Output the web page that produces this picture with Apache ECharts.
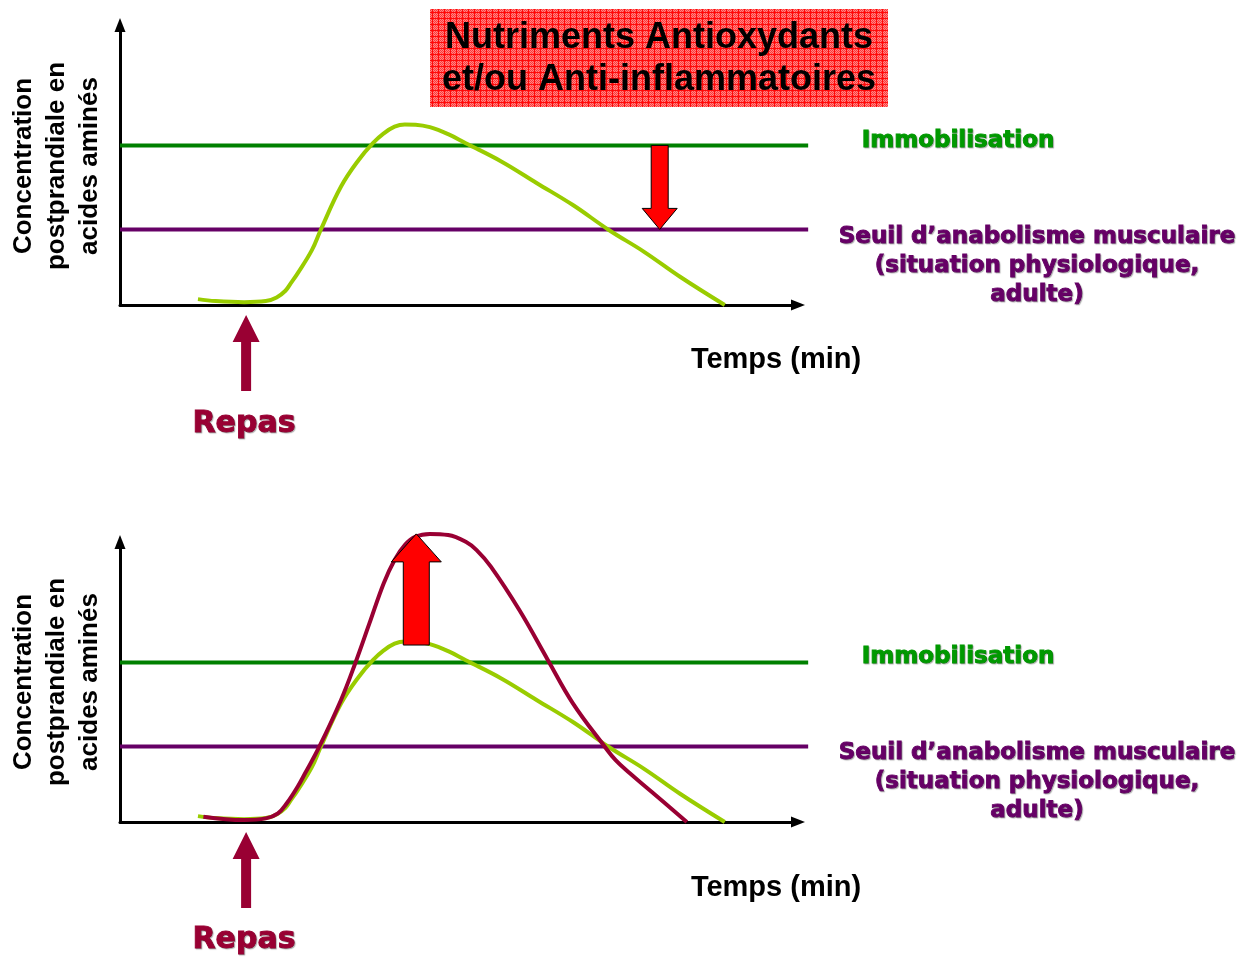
<!DOCTYPE html>
<html>
<head>
<meta charset="utf-8">
<script src="https://cdn.jsdelivr.net/npm/echarts@6/dist/echarts.min.js"></script>
<style>
  html, body { margin: 0; padding: 0; background: #ffffff; }
  #chart { width: 1249px; height: 959px; }
</style>
</head>
<body>
<div id="chart"></div>
<script>
// Postprandial amino-acid curve (standard meal)
const greenX = [11.5, 14.1, 18.3, 21.5, 23.1, 24.4, 25.2, 26.2, 28.3, 29.6, 32.6, 35.2, 37.3, 38.9, 40.5, 42.0, 43.6, 45.7, 48.4, 51.0, 56.3, 61.5, 66.8, 72.1, 77.3, 82.6, 89.2];
const greenY = [2.1, 1.4, 1.0, 1.4, 2.7, 5.1, 7.8, 11.3, 19.6, 26.8, 42.3, 51.8, 57.8, 61.3, 63.7, 64.5, 64.4, 63.5, 61.0, 57.8, 51.2, 43.5, 35.7, 26.8, 19.0, 10.1, 0];

// Curve with antioxidant / anti-inflammatory nutrients
const maroonX = [12.3, 18.3, 21.5, 23.3, 24.6, 26.2, 27.3, 29.4, 32.6, 34.7, 36.8, 38.9, 40.5, 42.0, 43.6, 45.7, 48.4, 51.0, 52.6, 54.7, 58.9, 63.1, 66.8, 71.5, 73.1, 75.2, 78.4, 83.6];
const maroonY = [1.9, 0.7, 1.3, 3.1, 6.7, 12.6, 17.4, 26.9, 43.6, 56.7, 71.0, 85.3, 93.6, 98.9, 101.9, 102.9, 102.5, 100.1, 97.1, 91.2, 75.7, 57.9, 42.4, 26.9, 22.1, 17.4, 10.8, 0];

// Threshold levels
const immobilisationLevel = 57;
const seuilLevel = 27;
const thresholdSpan = [0, 101.5];

// Annotation arrows: [x, from, to]
const downArrow = [[79.6, immobilisationLevel, seuilLevel]];
const upArrow = [[43.7, 63.2, 102.9]];
const mealTime = [[18.6]];

// Labels
const titleLines = ['Nutriments Antioxydants', 'et/ou Anti-inflammatoires'];
const yTitleLines = ['Concentration', 'postprandiale en', 'acides aminés'];
const xTitle = 'Temps (min)';
const immobLabel = 'Immobilisation';
const seuilLines = ['Seuil d’anabolisme musculaire', '(situation physiologique,', 'adulte)'];
const mealLabel = 'Repas';

const GREEN_CURVE = '#99cc00';
const MAROON = '#990033';
const GREEN = '#008000';
const PURPLE = '#660066';

const zip = (xs, ys) => xs.map((x, i) => [x, ys[i]]);

// Hatched red fill of the title box
const pc = document.createElement('canvas');
pc.width = 6; pc.height = 6;
const pctx = pc.getContext('2d');
for (let i = 0; i < 6; i++) {
  for (let j = 0; j < 6; j++) {
    pctx.fillStyle = (i + j) % 2 === 0 ? '#ff3a3a' : '#ff8484';
    pctx.fillRect(i, j, 1, 1);
  }
}
pctx.fillStyle = '#ff0a0a';
pctx.fillRect(0, 0, 6, 1);
pctx.fillRect(0, 0, 1, 6);

const chart = echarts.init(document.getElementById('chart'), null, { renderer: 'canvas' });

function blockArrow(hw, hh, hl, fill, stroke) {
  return function (params, api) {
    const x = api.value(0);
    const p1 = api.coord([x, api.value(1)]);
    const p2 = api.coord([x, api.value(2)]);
    const d = p2[1] > p1[1] ? 1 : -1;
    const cx = p1[0];
    const hb = p2[1] - d * hl;
    return {
      type: 'polygon',
      shape: { points: [[cx - hw, p1[1]], [cx + hw, p1[1]], [cx + hw, hb], [cx + hh, hb], [cx, p2[1]], [cx - hh, hb], [cx - hw, hb]] },
      style: { fill: fill, stroke: stroke, lineWidth: stroke ? 1 : 0 }
    };
  };
}

function mealArrow(params, api) {
  const base = api.coord([api.value(0), 0]);
  const cx = base[0], y0 = base[1];
  const tip = y0 + 10, hb = y0 + 37, bottom = y0 + 86;
  return {
    type: 'polygon',
    shape: { points: [[cx, tip], [cx + 13.5, hb], [cx + 5, hb], [cx + 5, bottom], [cx - 5, bottom], [cx - 5, hb], [cx - 13.5, hb]] },
    style: { fill: MAROON }
  };
}

// Horizontal threshold line across the panel: data [level]
function thresholdLine(color) {
  return function (params, api) {
    const lvl = api.value(0);
    const a = api.coord([thresholdSpan[0], lvl]);
    const b = api.coord([thresholdSpan[1], lvl]);
    return { type: 'line', shape: { x1: a[0], y1: a[1], x2: b[0], y2: b[1] }, style: { stroke: color, lineWidth: 4 } };
  };
}

const axisLineStyle = { show: true, lineStyle: { color: '#000', width: 3 }, symbol: ['none', 'triangle'], symbolSize: [11, 14] };

function ax(i) {
  return { type: 'value', gridIndex: i, min: 0, max: 100, axisLine: axisLineStyle, axisTick: { show: false }, axisLabel: { show: false }, splitLine: { show: false } };
}

function smoothSeries(i, data, color, z) {
  return { type: 'line', xAxisIndex: i, yAxisIndex: i, data: data, showSymbol: false, symbol: 'none', clip: false, z: z,
    smooth: 0.4, lineStyle: { color: color, width: 4 }, silent: true, animation: false };
}
function levelSeries(i, lvl, color) {
  return { type: 'custom', xAxisIndex: i, yAxisIndex: i, data: [[lvl]], renderItem: thresholdLine(color), z: 2, clip: false, silent: true };
}

const boldArial = '"Liberation Sans", Arial, sans-serif';
const heavy = '"DejaVu Sans", sans-serif';
const shadow = { textShadowColor: 'rgba(0,0,0,0.25)', textShadowOffsetX: 1, textShadowOffsetY: 1, textShadowBlur: 1 };

function heavyText(extra, color) {
  return Object.assign({ fill: color, stroke: color, lineWidth: 0.9, align: 'center', verticalAlign: 'middle' }, shadow, extra);
}

function panelTexts(dy, dyX) {
  return [
    { type: 'text', x: 57, y: 166 + dy, rotation: Math.PI / 2,
      style: { text: yTitleLines.join('\n'), font: 'bold 26px ' + boldArial, fill: '#000', align: 'center', verticalAlign: 'middle', lineHeight: 33 } },
    { type: 'text', x: 776, y: 360 + dyX,
      style: { text: xTitle, font: 'bold 29px ' + boldArial, fill: '#000', align: 'center', verticalAlign: 'middle' } },
    { type: 'text', x: 958, y: 141 + dy,
      style: heavyText({ text: immobLabel, font: 'bold 23px ' + heavy }, '#009900') },
    { type: 'text', x: 1037, y: 266 + dy,
      style: heavyText({ text: seuilLines.join('\n'), font: 'bold 23px ' + heavy, lineHeight: 29 }, PURPLE) },
    { type: 'text', x: 244, y: 424 + dy,
      style: heavyText({ text: mealLabel, font: 'bold 30px ' + heavy }, MAROON) }
  ];
}

const option = {
  backgroundColor: '#ffffff',
  animation: false,
  grid: [
    { left: 120, top: 25, width: 678, height: 280 },
    { left: 120, top: 542, width: 678, height: 280 }
  ],
  xAxis: [ax(0), ax(1)],
  yAxis: [ax(0), ax(1)],
  series: [
    // top panel
    levelSeries(0, immobilisationLevel, GREEN),
    levelSeries(0, seuilLevel, PURPLE),
    smoothSeries(0, zip(greenX, greenY), GREEN_CURVE, 3),
    { type: 'custom', xAxisIndex: 0, yAxisIndex: 0, data: downArrow, renderItem: blockArrow(8.5, 17.5, 21, '#ff0000', '#000'), z: 5, clip: false, silent: true },
    { type: 'custom', xAxisIndex: 0, yAxisIndex: 0, data: mealTime, renderItem: mealArrow, z: 5, clip: false, silent: true },
    // bottom panel
    levelSeries(1, immobilisationLevel, GREEN),
    levelSeries(1, seuilLevel, PURPLE),
    smoothSeries(1, zip(greenX, greenY), GREEN_CURVE, 3),
    smoothSeries(1, zip(maroonX, maroonY), MAROON, 4),
    { type: 'custom', xAxisIndex: 1, yAxisIndex: 1, data: upArrow, renderItem: blockArrow(13, 25, 28, '#ff0000', '#000'), z: 5, clip: false, silent: true },
    { type: 'custom', xAxisIndex: 1, yAxisIndex: 1, data: mealTime, renderItem: mealArrow, z: 5, clip: false, silent: true }
  ],
  graphic: [
    { type: 'rect', shape: { x: 430, y: 9, width: 458, height: 98 }, style: { fill: { image: pc, repeat: 'repeat' } }, z: 10 },
    { type: 'text', x: 659, y: 59, z: 11,
      style: { text: titleLines.join('\n'), font: 'bold 36px ' + boldArial, fill: '#000', align: 'center', verticalAlign: 'middle', lineHeight: 42 } }
  ].concat(panelTexts(0, 0), panelTexts(516, 528))
};

chart.setOption(option);
</script>
</body>
</html>
